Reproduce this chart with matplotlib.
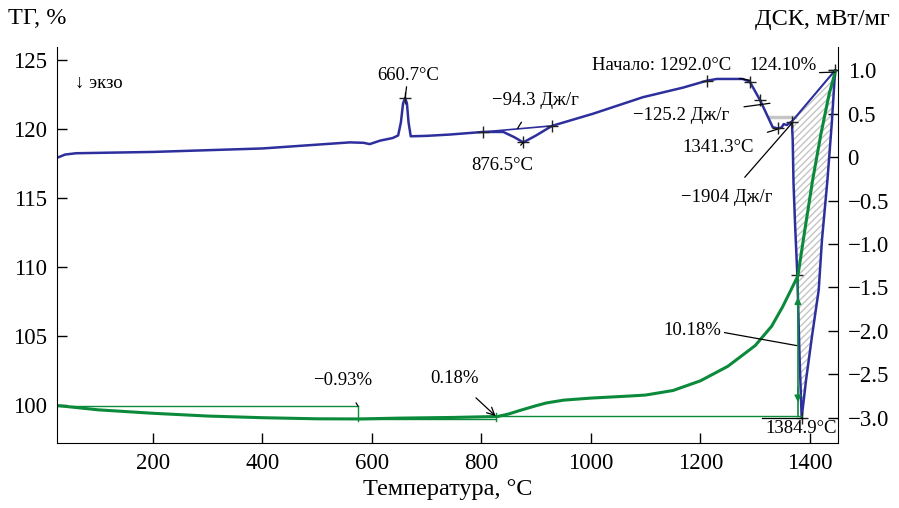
import numpy as np
import matplotlib
matplotlib.use('Agg')
import matplotlib.pyplot as plt

plt.rcParams['font.family'] = ['Liberation Serif', 'DejaVu Serif']

# ДСК (синяя кривая), мВт/мг
dsc_t = [28, 40, 60, 200, 400, 560, 585, 596, 615, 638, 648, 653, 657, 660.7, 664, 667, 671,
         700, 742, 803, 840, 860, 876.5, 900, 929, 1004, 1095, 1168, 1212, 1230, 1277, 1290,
         1309, 1332, 1341.3, 1348, 1352, 1358, 1367, 1368.5, 1370, 1373, 1377, 1381, 1384.9,
         1393, 1404, 1416, 1422, 1432, 1440, 1446]
dsc_v = [0.0, 0.03, 0.045, 0.06, 0.10, 0.17, 0.165, 0.15, 0.19, 0.22, 0.25, 0.40, 0.62, 0.68, 0.62, 0.40, 0.24,
         0.245, 0.26, 0.29, 0.29, 0.23, 0.17, 0.25, 0.36, 0.50, 0.69, 0.80, 0.88, 0.90, 0.90, 0.87,
         0.655, 0.345, 0.33, 0.34, 0.38, 0.37, 0.41, 0.2, -0.3, -0.8, -1.36, -2.3, -3.0,
         -2.56, -2.05, -1.53, -0.95, -0.26, 0.4, 1.0]

# ТГ (зелёная кривая), %
tg_t = [28, 100, 200, 300, 400, 500, 575, 650, 750, 830, 850, 870, 900, 919, 950, 1000, 1071,
        1100, 1150, 1200, 1250, 1300, 1330, 1350, 1365, 1378, 1390, 1405, 1420, 1435, 1446]
tg_v = [99.95, 99.65, 99.4, 99.2, 99.08, 99.0, 98.99, 99.05, 99.1, 99.17, 99.35, 99.6, 99.95, 100.15,
        100.35, 100.5, 100.65, 100.72, 101.05, 101.75, 102.8, 104.3, 105.7, 107.1, 108.3, 109.35,
        112.5, 116.3, 119.6, 122.5, 124.1]

# ступени ТГ
step_t = [574.5, 826.0, 1378.0]
step_lv = [99.93, 98.99, 99.17, 109.35]

# пики ДСК: начало и конец базовой линии
peak1 = [(803, 0.29), (929, 0.36)]
peak3 = [(1367, 0.41), (1446, 1.0)]
plus_pts = [(660.7, 0.68), (803, 0.29), (876.5, 0.17), (929, 0.36), (1212, 0.88), (1290, 0.87),
            (1309, 0.655), (1341.3, 0.33), (1367, 0.41), (1377, -1.36), (1446, 1.0), (1384.9, -3.0)]

blue = '#2d2f9c'
green = '#0c8a3c'

fig = plt.figure(figsize=(8.99, 5.08), dpi=100)
ax = fig.add_axes([0.0634, 0.128, 0.8686, 0.779])
ax2 = ax.twinx()
# ТГ поверх ДСК
ax.set_zorder(ax2.get_zorder() + 1)
ax.patch.set_visible(False)

ax.set_xlim(25, 1451)
ax.set_ylim(97.25, 125.9)
ax2.set_ylim(-3.29, 1.265)

for a in (ax, ax2):
    a.spines['top'].set_visible(False)
ax.spines['right'].set_visible(False)
ax2.spines['left'].set_visible(False)
ax2.spines['bottom'].set_visible(False)

ax.set_xticks([200, 400, 600, 800, 1000, 1200, 1400])
ax.set_yticks([100, 105, 110, 115, 120, 125])
ax2.set_yticks([-3.0, -2.5, -2.0, -1.5, -1.0, -0.5, 0, 0.5, 1.0])
ax2.set_yticklabels(['−3.0', '−2.5', '−2.0', '−1.5', '−1.0', '−0.5', '0', '0.5', '1.0'])
ax.tick_params(direction='in', length=7, width=1, labelsize=16.5, pad=7)
ax2.tick_params(direction='in', length=7, width=1, labelsize=16.5, pad=7)

# штриховка пика -1904
i0 = dsc_t.index(1367)
px = dsc_t[i0:] + [dsc_t[i0]]
py = dsc_v[i0:] + [dsc_v[i0]]
ax2.fill(px, py, facecolor='none', edgecolor='#c4c4c4', hatch='/////', lw=0)

# зелёные линии ступеней
ax.plot([25, step_t[0]], [step_lv[0], step_lv[0]], color=green, lw=1)
ax.plot([step_t[0], step_t[0]], [step_lv[0], 98.85], color=green, lw=1)
ax.plot([step_t[0], step_t[1]], [step_lv[1], step_lv[1]], color=green, lw=1)
ax.plot([step_t[1], step_t[1]], [99.4, 98.85], color=green, lw=1)
ax.plot([step_t[1], 1384], [step_lv[2], step_lv[2]], color=green, lw=1)
ax.plot([step_t[2], step_t[2]], [step_lv[3], step_lv[2]], color=green, lw=1.2)
ax.annotate('', xy=(step_t[2], 108.0), xytext=(step_t[2], 106.5),
            arrowprops=dict(arrowstyle='-|>', color=green, lw=1, mutation_scale=10))
ax.annotate('', xy=(step_t[2], 100.0), xytext=(step_t[2], 101.5),
            arrowprops=dict(arrowstyle='-|>', color=green, lw=1, mutation_scale=10))

ax.plot(tg_t, tg_v, color=green, lw=2.2)

# ДСК
ax2.plot([1327, 1372], [0.46, 0.46], color='#c6c6c6', lw=2.5)
ax2.plot(dsc_t, dsc_v, color=blue, lw=1.8)
ax2.plot([p[0] for p in peak1], [p[1] for p in peak1], color=blue, lw=1.2)
ax2.plot([p[0] for p in peak3], [p[1] for p in peak3], color=blue, lw=1.5)
ax2.plot([p[0] for p in plus_pts], [p[1] for p in plus_pts], ls='none', marker='+',
         color='#222222', ms=9, mew=1)

fs = 13.5
ln = dict(arrowstyle='-', color='black', lw=0.9, shrinkA=9, shrinkB=0)
ax2.annotate('660.7°C', xy=(660.7, 0.68), xytext=(666, 0.94), ha='center', va='center',
             fontsize=fs, arrowprops=ln)
ax2.annotate('−94.3 Дж/г', xy=(866, 0.33), xytext=(898, 0.655), ha='center', va='center',
             fontsize=fs, arrowprops=ln)
ax2.annotate('876.5°C', xy=(876.5, 0.17), xytext=(838, -0.10), ha='center', va='center',
             fontsize=fs, arrowprops=ln)
ax2.annotate('Начало: 1292.0°C', xy=(1290, 0.885), xytext=(1130, 1.06), ha='center', va='center',
             fontsize=fs, arrowprops=ln)
ax2.annotate('−125.2 Дж/г', xy=(1327, 0.62), xytext=(1164, 0.48), ha='center', va='center',
             fontsize=fs, arrowprops=ln)
ax2.annotate('1341.3°C', xy=(1340, 0.32), xytext=(1232, 0.115), ha='center', va='center',
             fontsize=fs, arrowprops=ln)
ax2.annotate('−1904 Дж/г', xy=(1367, 0.39), xytext=(1248, -0.47), ha='center', va='center',
             fontsize=fs, arrowprops=ln)
ax2.annotate('1384.9°C', xy=(1384.9, -3.0), xytext=(1384, -3.125), ha='center', va='center',
             fontsize=fs)
ax2.plot([1312, 1384.9], [-3.0, -3.0], color='black', lw=0.9)
ax.annotate('124.10%', xy=(1446, 124.1), xytext=(1351, 124.55), ha='center', va='center',
            fontsize=fs, arrowprops=dict(arrowstyle='-', color='black', lw=0.9, shrinkA=0, shrinkB=0,
                                         relpos=(1.0, 0.1)))
ax.annotate('10.18%', xy=(1376, 104.3), xytext=(1186, 105.4), ha='center', va='center',
            fontsize=fs, arrowprops=dict(arrowstyle='-', color='black', lw=0.9, shrinkA=0, shrinkB=0,
                                         relpos=(1.0, 0.4)))
ax.annotate('−0.93%', xy=(574.5, 99.93), xytext=(547, 101.75), ha='center', va='center',
            fontsize=fs, arrowprops=ln)
ax.annotate('0.18%', xy=(826, 99.2), xytext=(751, 101.95), ha='center', va='center',
            fontsize=fs, arrowprops=dict(arrowstyle='->', color='black', lw=0.9, shrinkA=9, shrinkB=0))

ax.text(58, 123.27, '↓ экзо', fontsize=13.5, ha='left', va='center')

ax.set_xlabel('Температура, °C', fontsize=17.5, labelpad=4)
fig.text(8 / 899, 1 - 19 / 508, 'ТГ, %', fontsize=17.5, ha='left', va='center')
fig.text(890 / 899, 1 - 19 / 508, 'ДСК, мВт/мг', fontsize=17.5, ha='right', va='center')

fig.savefig('out.png', dpi=100)
